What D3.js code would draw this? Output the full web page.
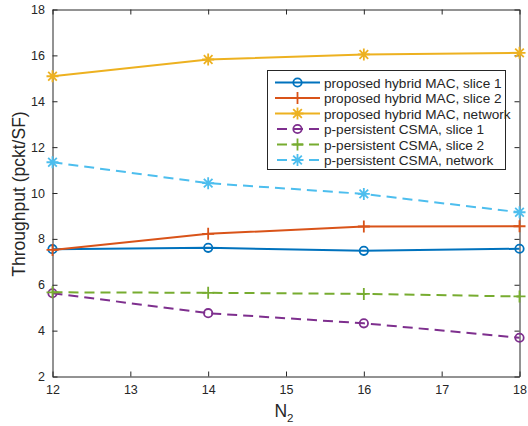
<!DOCTYPE html>
<html><head><meta charset="utf-8">
<script src="https://cdn.jsdelivr.net/npm/d3@7"></script>
<style>body{margin:0;background:#fff}svg{display:block}text{font-family:"Liberation Sans",Arial,sans-serif;fill:#262626}</style>
</head><body><svg id="c" width="528" height="426"></svg>
<script>
const xValues = [12, 14, 16, 18];
const hybridSlice1 = [7.55, 7.61, 7.48, 7.57];
const hybridSlice2 = [7.52, 8.22, 8.54, 8.55];
const hybridNetwork = [15.09, 15.82, 16.04, 16.11];
const csmaSlice1 = [5.63, 4.76, 4.32, 3.69];
const csmaSlice2 = [5.67, 5.65, 5.60, 5.49];
const csmaNetwork = [11.34, 10.43, 9.96, 9.16];
const seriesNames = ["proposed hybrid MAC, slice 1","proposed hybrid MAC, slice 2","proposed hybrid MAC, network","p-persistent CSMA, slice 1","p-persistent CSMA, slice 2","p-persistent CSMA, network"];
const xTicks = [12,13,14,15,16,17,18];
const yTicks = [2,4,6,8,10,12,14,16,18];

const series = [
 {name:seriesNames[0], v:hybridSlice1, color:"#0072BD", dash:null, marker:"circle"},
 {name:seriesNames[1], v:hybridSlice2, color:"#D95319", dash:null, marker:"plus"},
 {name:seriesNames[2], v:hybridNetwork, color:"#EDB120", dash:null, marker:"star"},
 {name:seriesNames[3], v:csmaSlice1, color:"#7E2F8E", dash:"10,6", marker:"circle"},
 {name:seriesNames[4], v:csmaSlice2, color:"#77AC30", dash:"10,6", marker:"plus"},
 {name:seriesNames[5], v:csmaNetwork, color:"#4DBEEE", dash:"10,6", marker:"star"}
];

const L=52.5, R=519.5, T=9.5, B=376.5;
const svg=d3.select("#c");
const x=d3.scaleLinear().domain([12,18]).range([L,R]);
const y=d3.scaleLinear().domain([2,18]).range([B,T]);
const ax="#262626";
const fmt=d3.format("d");

svg.append("g").attr("transform",`translate(0,${B})`).call(d3.axisBottom(x).tickValues(xTicks).tickFormat(fmt).tickSizeInner(-5).tickSizeOuter(0).tickPadding(9))
 .call(g=>{g.select(".domain").attr("stroke",ax);g.selectAll("line").attr("stroke",ax);g.selectAll("text").attr("font-size",12.5).attr("fill",ax).attr("font-family","Liberation Sans, Arial");});
svg.append("g").attr("transform",`translate(0,${T})`).call(d3.axisTop(x).tickValues(xTicks).tickSizeInner(-5).tickSizeOuter(0).tickFormat(""))
 .call(g=>{g.select(".domain").attr("stroke",ax);g.selectAll("line").attr("stroke",ax);});
svg.append("g").attr("transform",`translate(${L},0)`).call(d3.axisLeft(y).tickValues(yTicks).tickFormat(fmt).tickSizeInner(-5).tickSizeOuter(0).tickPadding(7.5))
 .call(g=>{g.select(".domain").attr("stroke",ax);g.selectAll("line").attr("stroke",ax);g.selectAll("text").attr("font-size",12.5).attr("fill",ax).attr("font-family","Liberation Sans, Arial");});
svg.append("g").attr("transform",`translate(${R},0)`).call(d3.axisRight(y).tickValues(yTicks).tickSizeInner(-5).tickSizeOuter(0).tickFormat(""))
 .call(g=>{g.select(".domain").attr("stroke",ax);g.selectAll("line").attr("stroke",ax);});

function drawMarker(g,type,cx,cy,color){
  if(type==="circle"){
    g.append("circle").attr("cx",cx).attr("cy",cy).attr("r",4.2).attr("fill","none").attr("stroke",color).attr("stroke-width",1.8);
  } else if(type==="plus"){
    const s=6;
    g.append("path").attr("d",`M${cx-s},${cy}H${cx+s}M${cx},${cy-s}V${cy+s}`).attr("stroke",color).attr("stroke-width",1.8);
  } else {
    const s=6, d=s*0.72;
    g.append("path").attr("d",`M${cx-s},${cy}H${cx+s}M${cx},${cy-s}V${cy+s}M${cx-d},${cy-d}L${cx+d},${cy+d}M${cx-d},${cy+d}L${cx+d},${cy-d}`).attr("stroke",color).attr("stroke-width",1.8);
  }
}

const line=d3.line().x((d,i)=>x(xValues[i])).y(d=>y(d));
const plot=svg.append("g");
series.forEach(s=>{
  plot.append("path").attr("d",line(s.v)).attr("fill","none").attr("stroke",s.color).attr("stroke-width",2).attr("stroke-dasharray",s.dash);
  s.v.forEach((v,i)=>drawMarker(plot,s.marker,x(xValues[i]),y(v),s.color));
});

const lg=svg.append("g");
lg.append("rect").attr("x",267.5).attr("y",70.5).attr("width",238).attr("height",99).attr("fill","#fff").attr("stroke",ax).attr("stroke-width",1);
series.forEach((s,i)=>{
  const cy=82.5+i*15.5;
  lg.append("path").attr("d",`M275,${cy}H320`).attr("stroke",s.color).attr("stroke-width",2).attr("stroke-dasharray",s.dash?"10,6":null).attr("stroke-dashoffset",s.dash?-2:null);
  drawMarker(lg,s.marker,297.5,cy,s.color);
  lg.append("text").attr("x",324).attr("y",cy+5).attr("font-size",13.6).text(s.name);
});

svg.append("text").attr("transform",`translate(25,194) rotate(-90)`).attr("text-anchor","middle").attr("font-size",17.5).text("Throughput (pckt/SF)");
const xl=svg.append("text").attr("x",284).attr("y",416.5).attr("text-anchor","middle").attr("font-size",17.5);
xl.append("tspan").text("N");
xl.append("tspan").attr("font-size",11.5).attr("dy",5).text("2");
</script></body></html>
